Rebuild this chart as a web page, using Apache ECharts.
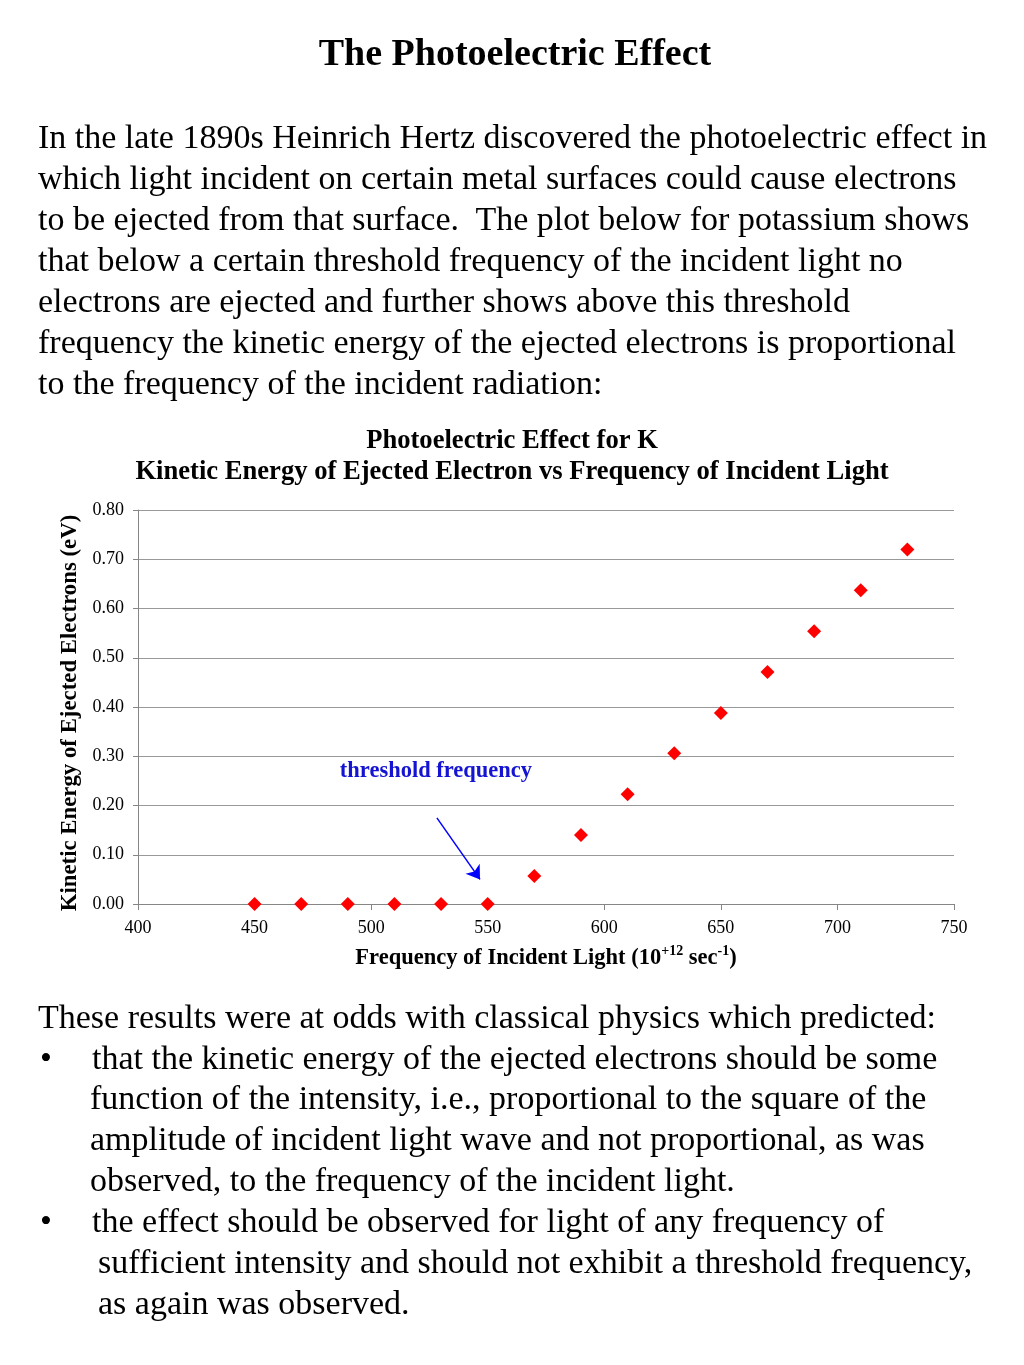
<!DOCTYPE html>
<html><head><meta charset="utf-8">
<script src="https://cdn.jsdelivr.net/npm/echarts@6/dist/echarts.min.js"></script>
<style>
html,body{margin:0;padding:0;background:#fff;}
#wrap{position:relative;width:1024px;height:1365px;overflow:hidden;}
#chart{position:absolute;left:0;top:0;width:1024px;height:1365px;}
.t{position:absolute;white-space:nowrap;font-family:"Liberation Serif","Times New Roman",serif;color:#000;pointer-events:none;}
.p{font-size:34px;line-height:41px;}
</style></head>
<body><div id="wrap"><div id="chart"></div>
<div class="t" style="left:0;width:1030px;text-align:center;top:31px;font-size:38px;font-weight:bold;line-height:42px;">The Photoelectric Effect</div>
<div class="t p" style="left:38px;top:116px;">In the late 1890s Heinrich Hertz discovered the photoelectric effect in</div>
<div class="t p" style="left:38px;top:157px;">which light incident on certain metal surfaces could cause electrons</div>
<div class="t p" style="left:38px;top:198px;">to be ejected from that surface.&nbsp; The plot below for potassium shows</div>
<div class="t p" style="left:38px;top:239px;">that below a certain threshold frequency of the incident light no</div>
<div class="t p" style="left:38px;top:280px;">electrons are ejected and further shows above this threshold</div>
<div class="t p" style="left:38px;top:321px;">frequency the kinetic energy of the ejected electrons is proportional</div>
<div class="t p" style="left:38px;top:362px;">to the frequency of the incident radiation:</div>
<div class="t p" style="left:38px;top:996px;">These results were at odds with classical physics which predicted:</div>
<div class="t p" style="left:40px;top:1037px;">•</div>
<div class="t p" style="left:92px;top:1037px;">that the kinetic energy of the ejected electrons should be some</div>
<div class="t p" style="left:90px;top:1077px;">function of the intensity, i.e., proportional to the square of the</div>
<div class="t p" style="left:90px;top:1118px;">amplitude of incident light wave and not proportional, as was</div>
<div class="t p" style="left:90px;top:1159px;">observed, to the frequency of the incident light.</div>
<div class="t p" style="left:40px;top:1200px;">•</div>
<div class="t p" style="left:92px;top:1200px;">the effect should be observed for light of any frequency of</div>
<div class="t p" style="left:98px;top:1241px;">sufficient intensity and should not exhibit a threshold frequency,</div>
<div class="t p" style="left:98px;top:1282px;">as again was observed.</div>
</div>
<script>
const frequency = [450, 470, 490, 510, 530, 550, 570, 590, 610, 630, 650, 670, 690, 710, 730];
const kineticEnergy = [0, 0, 0, 0, 0, 0, 0.057, 0.140, 0.223, 0.306, 0.388, 0.471, 0.554, 0.637, 0.720];
const arrowStart = [528.2, 0.175];
const arrowEnd = [546.7, 0.050];
const labelPos = [527.8, 0.270];

const FONT = '"Liberation Serif","Times New Roman",serif';
const chart = echarts.init(document.getElementById('chart'));
chart.setOption({
  animation: false,
  textStyle: { fontFamily: FONT },
  title: {
    text: 'Photoelectric Effect for K\nKinetic Energy of Ejected Electron vs Frequency of Incident Light',
    left: 512, top: 426, textAlign: 'center', padding: 0,
    textStyle: { fontFamily: FONT, fontSize: 26.6, fontWeight: 'bold', color: '#000', lineHeight: 31 }
  },
  grid: { left: 138, right: 70, top: 510, bottom: 461 },
  xAxis: {
    type: 'value', min: 400, max: 750, interval: 50,
    name: '{b|Frequency of Incident Light (10}{s|+12}{b| sec}{s|-1}{b|)}',
    nameLocation: 'middle', nameGap: 40,
    nameTextStyle: {
      rich: {
        b: { fontFamily: FONT, fontSize: 22.5, fontWeight: 'bold', color: '#000', lineHeight: 26, verticalAlign: 'bottom' },
        s: { fontFamily: FONT, fontSize: 14, fontWeight: 'bold', color: '#000', lineHeight: 26, verticalAlign: 'top' }
      }
    },
    axisLine: { show: true, onZero: false, lineStyle: { color: '#868686', width: 1 } },
    axisTick: { show: true, inside: false, length: 6, lineStyle: { color: '#868686' } },
    axisLabel: { fontFamily: FONT, fontSize: 18, color: '#000', margin: 15 },
    splitLine: { show: false }
  },
  yAxis: {
    type: 'value', min: 0, max: 0.8, interval: 0.1,
    name: 'Kinetic Energy of Ejected Electrons (eV)',
    nameLocation: 'middle', nameGap: 53, nameRotate: 90,
    nameTextStyle: { fontFamily: FONT, fontSize: 22.8, fontWeight: 'bold', color: '#000', padding: [0, 12, 0, 0] },
    axisLine: { show: true, lineStyle: { color: '#868686', width: 1 } },
    axisTick: { show: true, inside: false, length: 5, lineStyle: { color: '#868686' } },
    axisLabel: { fontFamily: FONT, fontSize: 18, color: '#000', margin: 14, formatter: v => v.toFixed(2) },
    splitLine: { show: true, lineStyle: { color: '#999', width: 1 } }
  },
  series: [{
    type: 'scatter',
    data: frequency.map((f, i) => [f, kineticEnergy[i]]),
    symbol: 'diamond', symbolSize: 14,
    itemStyle: { color: '#ff0000', opacity: 1 },
    markLine: {
      silent: true, symbol: ['none', 'arrow'], symbolSize: 13,
      label: { show: false },
      lineStyle: { color: '#0000ff', width: 1.5, type: 'solid' },
      data: [[{ coord: arrowStart }, { coord: arrowEnd }]]
    },
    markPoint: {
      silent: true, symbol: 'circle', symbolSize: 1,
      itemStyle: { color: 'rgba(0,0,0,0)' },
      label: { show: true, position: 'inside', formatter: 'threshold frequency',
        fontFamily: FONT, fontSize: 22.5, fontWeight: 'bold', color: '#1414d2' },
      data: [{ coord: labelPos }]
    }
  }]
});
</script></body></html>
